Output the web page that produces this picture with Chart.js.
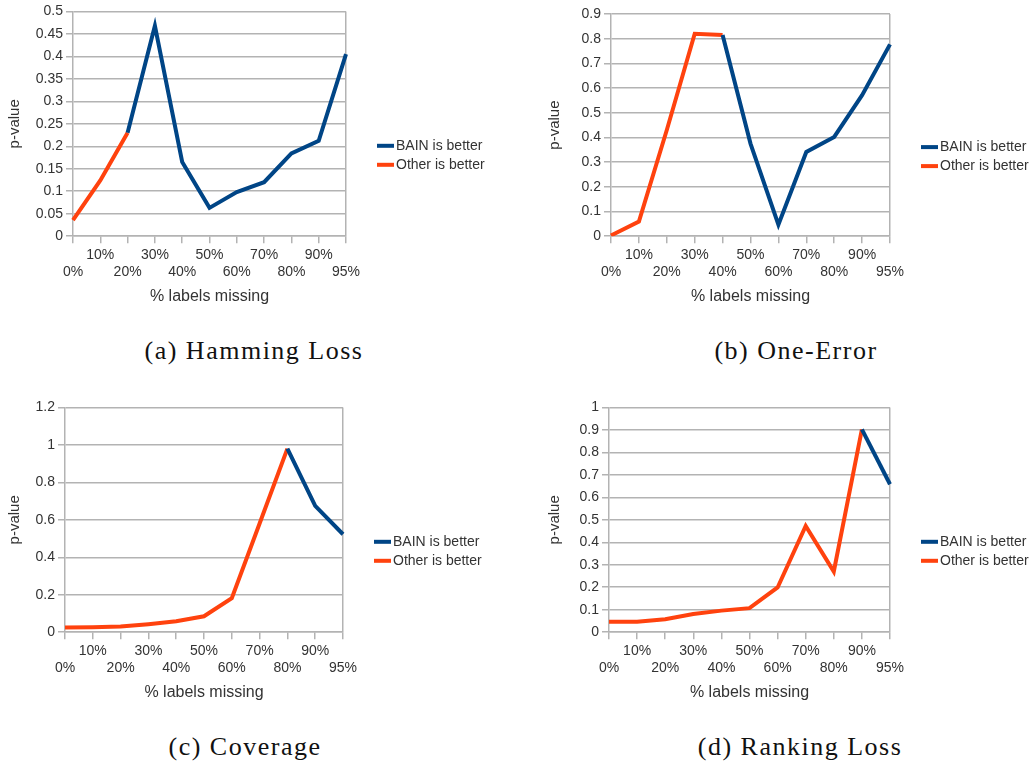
<!DOCTYPE html>
<html>
<head>
<meta charset="utf-8">
<script src="https://cdn.jsdelivr.net/npm/chart.js@4"></script>
<style>
  body { margin: 0; background: #fff; width: 1034px; height: 766px; position: relative; overflow: hidden; }
  canvas { position: absolute; }
  .cap { position: absolute; font-family: "Liberation Serif", serif; font-size: 26px; letter-spacing: 1.5px;
         color: #111; white-space: nowrap; transform: translate(-50%, -50%); }
</style>
</head>
<body>
<canvas id="hamming" width="500" height="310" style="left:0;top:0"></canvas>
<canvas id="oneError" width="494" height="310" style="left:540px;top:0"></canvas>
<canvas id="coverage" width="500" height="310" style="left:0;top:396px"></canvas>
<canvas id="ranking" width="494" height="310" style="left:540px;top:396px"></canvas>

<div class="cap" style="left:254px;top:351px">(a) Hamming Loss</div>
<div class="cap" style="left:796px;top:351px">(b) One-Error</div>
<div class="cap" style="left:245px;top:747px">(c) Coverage</div>
<div class="cap" style="left:800px;top:747px">(d) Ranking Loss</div>

<script>
// data
const categories = ['0%', '10%', '20%', '30%', '40%', '50%', '60%', '70%', '80%', '90%', '95%'];
const seriesNames = ['BAIN is better', 'Other is better'];

// null = that stretch belongs to the other series
const hammingBain   = [null, null, 0.23, 0.468, 0.165, 0.063, 0.098, 0.12, 0.184, 0.212, 0.405];
const hammingOther  = [0.036, 0.124, 0.23, null, null, null, null, null, null, null, null];

const oneErrorBain  = [null, null, null, null, 0.815, 0.375, 0.047, 0.341, 0.402, 0.571, 0.777];
const oneErrorOther = [0.003, 0.059, 0.43, 0.82, 0.815, null, null, null, null, null, null];

const coverageBain  = [null, null, null, null, null, null, null, null, 0.98, 0.674, 0.523];
const coverageOther = [0.025, 0.027, 0.03, 0.043, 0.059, 0.085, 0.181, 0.58, 0.98, null, null];

const rankingBain   = [null, null, null, null, null, null, null, null, null, 0.902, 0.658];
const rankingOther  = [0.047, 0.047, 0.058, 0.081, 0.096, 0.107, 0.199, 0.473, 0.27, 0.902, null];

// y axis ranges: hamming, one-error, coverage, ranking
const yMax  = [0.5, 0.9, 1.2, 1];
const yStep = [0.05, 0.1, 0.2, 0.1];

const BLUE = '#004586';
const ORANGE = '#ff420e';
const GRID = '#b3b3b3';
const TEXT = '#333';
const SANS = '"Liberation Sans", Arial, sans-serif';

// legend to the right of the plot, like the office chart
const sideLegend = {
  id: 'sideLegend',
  afterDraw(chart) {
    const ctx = chart.ctx;
    const area = chart.chartArea;
    const x = area.right + 31;
    const cy = (area.top + area.bottom) / 2;
    chart.data.datasets.forEach((ds, i) => {
      const y = cy + 22 + i * 19;
      ctx.save();
      ctx.fillStyle = ds.borderColor;
      ctx.fillRect(x, y - 2, 17, 4);
      ctx.fillStyle = TEXT;
      ctx.font = '14px ' + SANS;
      ctx.textBaseline = 'middle';
      ctx.fillText(ds.label, x + 19, y);
      ctx.restore();
    });
  }
};

function makeChart(id, bain, other, max, step, axisW, padTop, padRight) {
  const last = categories.length - 1;
  return new Chart(document.getElementById(id), {
    type: 'line',
    data: {
      labels: categories,
      datasets: [
        { label: seriesNames[0], data: bain, borderColor: BLUE, backgroundColor: BLUE,
          borderWidth: 4, pointRadius: 0, tension: 0 },
        { label: seriesNames[1], data: other, borderColor: ORANGE, backgroundColor: ORANGE,
          borderWidth: 4, pointRadius: 0, tension: 0 }
      ]
    },
    plugins: [sideLegend],
    options: {
      responsive: false,
      animation: false,
      layout: { padding: { top: padTop, right: padRight, left: 0, bottom: 0 } },
      plugins: { legend: { display: false }, tooltip: { enabled: false } },
      scales: {
        x: {
          offset: false,
          grid: {
            color: c => c.index === last ? GRID : 'rgba(0,0,0,0)',
            tickColor: GRID, lineWidth: 1.5, tickLength: 7
          },
          border: { display: true, color: GRID, width: 1.5 },
          ticks: {
            autoSkip: false, maxRotation: 0, padding: 4, color: TEXT,
            font: { family: SANS, size: 14, lineHeight: 1.2 },
            // staggered labels: odd ones on the upper row
            callback: function (v, i) {
              const lab = this.getLabelForValue(v);
              return i % 2 === 1 ? [lab, ''] : ['', lab];
            }
          },
          title: { display: true, text: '% labels missing', color: TEXT,
                   font: { family: SANS, size: 16 }, padding: { top: 2, bottom: 4 } }
        },
        y: {
          min: 0, max: max,
          afterFit: s => { s.width = axisW; },
          grid: { color: GRID, lineWidth: 1.5, tickLength: 7 },
          border: { display: true, color: GRID, width: 1.5 },
          ticks: { stepSize: step, padding: 3, color: TEXT, font: { family: SANS, size: 14 },
                   callback: v => String(Number(v.toFixed(2))) },
          title: { display: true, text: 'p-value', color: TEXT,
                   font: { family: SANS, size: 15 }, padding: { top: 6, bottom: 0 } }
        }
      }
    }
  });
}

makeChart('hamming',  hammingBain,  hammingOther,  yMax[0], yStep[0], 73, 11, 154);
makeChart('oneError', oneErrorBain, oneErrorOther, yMax[1], yStep[1], 71, 14, 144);
makeChart('coverage', coverageBain, coverageOther, yMax[2], yStep[2], 65, 11, 157);
makeChart('ranking',  rankingBain,  rankingOther,  yMax[3], yStep[3], 69, 11, 144);
</script>
</body>
</html>
